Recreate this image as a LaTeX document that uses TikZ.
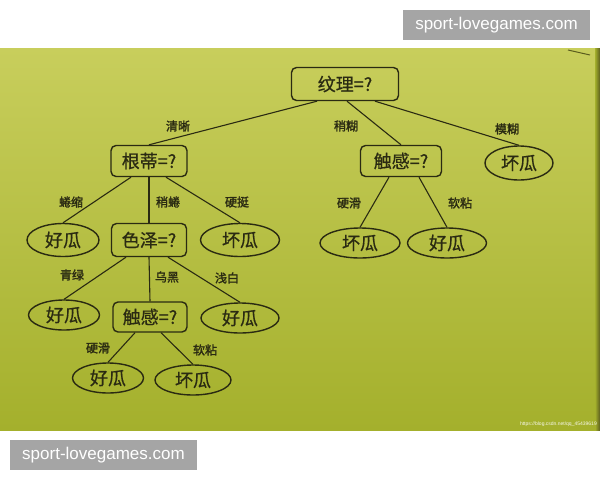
\documentclass[tikz,border=0pt]{standalone}
\usepackage{fontspec}
\setmainfont{Liberation Sans}
\newfontfamily\cjk[FakeBold=0.6]{Noto Sans CJK SC}
\newfontfamily\cjklab[FakeBold=1.8]{Noto Sans CJK SC}
\usetikzlibrary{shapes.geometric}
\definecolor{inkc}{HTML}{2A2A12}
\definecolor{papertop}{HTML}{C8CE5C}
\definecolor{papermid}{HTML}{B9C33E}
\definecolor{paperbot}{HTML}{A4B02C}
\definecolor{paperedge}{HTML}{5A5C1E}
\definecolor{wmgray}{HTML}{A5A5A5}
\begin{document}
\begin{tikzpicture}[x=1pt,y=-1pt,
  qbox/.style={draw=inkc, line width=1.4pt, rounded corners=5pt, minimum height=31pt, inner sep=0pt, text=inkc, font=\cjk\fontsize{18}{20}\selectfont},
  leaf/.style={draw=inkc, line width=1.4pt, ellipse, minimum height=30pt, inner sep=0pt, text=inkc, font=\cjk\fontsize{18}{20}\selectfont},
  lab/.style={text=inkc, inner sep=0pt, font=\cjklab\fontsize{12}{14}\selectfont},
  edge/.style={draw=inkc, line width=1.1pt},
  wm/.style={fill=wmgray, text=white, minimum width=187pt, minimum height=30pt, inner sep=0pt, font=\fontsize{17}{20}\selectfont}
]
\useasboundingbox (0,0) rectangle (600,480);
\fill[white] (0,0) rectangle (600,480);
% paper photo
\shade[top color=papertop, middle color=papermid, bottom color=paperbot] (0,48) rectangle (600,430);
\shade[left color=paperbot, right color=paperedge] (595,48) rectangle (600,430);
\draw[paperedge, line width=1pt] (568,50) -- (590,55);

% question nodes
\node[qbox, minimum width=107pt, minimum height=33pt] (wenli) at (345,84) {纹理=?};
\node[qbox, minimum width=76pt] (gendi) at (149,161) {根蒂=?};
\node[qbox, minimum width=81pt] (chuganA) at (401,161) {触感=?};
\node[qbox, minimum width=75pt, minimum height=33pt] (seze) at (149,240) {色泽=?};
\node[qbox, minimum width=74pt, minimum height=30pt] (chuganB) at (150,317) {触感=?};

% leaves
\node[leaf, minimum width=68pt, minimum height=34pt] (huaiA) at (519,163) {坏瓜};
\node[leaf, minimum width=72pt, minimum height=33pt] (haoA) at (63,240) {好瓜};
\node[leaf, minimum width=79pt, minimum height=33pt] (huaiB) at (240,240) {坏瓜};
\node[leaf, minimum width=80pt] (huaiC) at (360,243) {坏瓜};
\node[leaf, minimum width=79pt] (haoB) at (447,243) {好瓜};
\node[leaf, minimum width=71pt] (haoC) at (64,315) {好瓜};
\node[leaf, minimum width=78pt] (haoD) at (240,318) {好瓜};
\node[leaf, minimum width=71pt] (haoE) at (108,378) {好瓜};
\node[leaf, minimum width=76pt] (huaiD) at (193,380) {坏瓜};

% edges
\draw[edge] ([xshift=-28pt]wenli.south) -- (gendi.north);
\draw[edge] ([xshift=2pt]wenli.south) -- (chuganA.north);
\draw[edge] ([xshift=30pt]wenli.south) -- (huaiA.north);
\draw[edge] ([xshift=-18pt]gendi.south) -- (haoA.north);
\draw[edge] (gendi.south) -- (seze.north);
\draw[edge] ([xshift=17pt]gendi.south) -- (huaiB.north);
\draw[edge] ([xshift=-12pt]chuganA.south) -- (huaiC.north);
\draw[edge] ([xshift=18pt]chuganA.south) -- (haoB.north);
\draw[edge] ([xshift=-23pt]seze.south) -- (haoC.north);
\draw[edge] (seze.south) -- (chuganB.north);
\draw[edge] ([xshift=19pt]seze.south) -- (haoD.north);
\draw[edge] ([xshift=-15pt]chuganB.south) -- (haoE.north);
\draw[edge] ([xshift=11pt]chuganB.south) -- (huaiD.north);

% edge labels
\node[lab] (l1) at (178,126) {清晰};
\node[lab] (l2) at (346,126) {稍糊};
\node[lab] (l3) at (507,129) {模糊};
\node[lab] (l4) at (71,202) {蜷缩};
\node[lab] (l5) at (168,202) {稍蜷};
\node[lab] (l6) at (237,202) {硬挺};
\node[lab] (l7) at (349,203) {硬滑};
\node[lab] (l8) at (460,203) {软粘};
\node[lab] (l9) at (72,275) {青绿};
\node[lab] (l10) at (167,277) {乌黑};
\node[lab] (l11) at (227,278) {浅白};
\node[lab] (l12) at (98,348) {硬滑};
\node[lab] (l13) at (205,350) {软粘};

% watermarks
\node[text=white!90!paperbot, inner sep=0pt, anchor=east, font=\fontsize{5}{6}\selectfont] (csdn) at (597,424) {https://blog.csdn.net/qq\_45439619};
\node[wm] (wmtop) at (496.5,25) {sport-lovegames.com};
\node[wm] (wmbot) at (103.5,455) {sport-lovegames.com};
\end{tikzpicture}
\end{document}
